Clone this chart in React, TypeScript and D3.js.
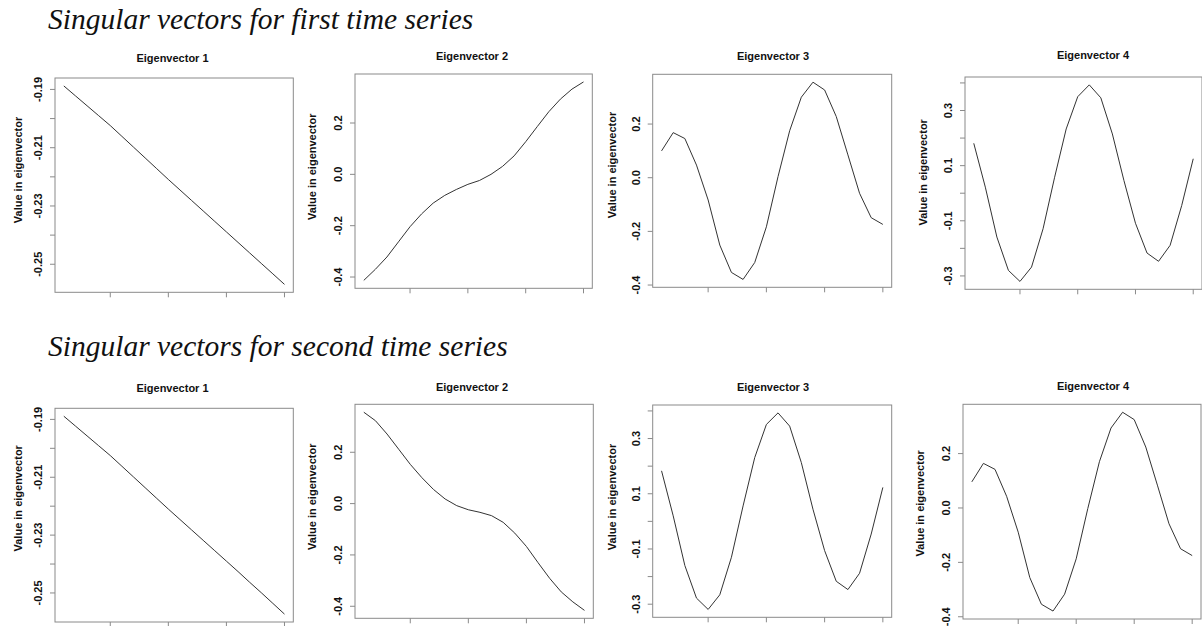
import React from 'react';
import * as d3 from 'd3';

// ---------- data ----------
const xPoints = [1, 2, 3, 4, 5, 6, 7, 8, 9, 10, 11, 12, 13, 14, 15, 16, 17, 18, 19, 20];
const xTicks = [5, 10, 15, 20];

const series1Eig1 = [-0.1888, -0.1922, -0.1956, -0.1990, -0.2024, -0.2061, -0.2098, -0.2135, -0.2172, -0.2209,
  -0.2245, -0.2281, -0.2317, -0.2353, -0.2389, -0.2425, -0.2461, -0.2497, -0.2533, -0.2569];
const series1Eig2 = [-0.413, -0.370, -0.322, -0.263, -0.204, -0.154, -0.112, -0.082, -0.059, -0.039,
  -0.024, 0.000, 0.031, 0.072, 0.127, 0.186, 0.244, 0.293, 0.332, 0.360];
const series1Eig3 = [0.100, 0.168, 0.146, 0.047, -0.083, -0.251, -0.353, -0.379, -0.316, -0.183,
  0.004, 0.175, 0.300, 0.356, 0.327, 0.228, 0.085, -0.058, -0.149, -0.174];
const series1Eig4 = [0.181, 0.022, -0.159, -0.280, -0.320, -0.268, -0.129, 0.058, 0.233, 0.350,
  0.393, 0.346, 0.215, 0.046, -0.109, -0.217, -0.247, -0.189, -0.045, 0.125];

const series2Eig1 = [-0.1889, -0.1923, -0.1957, -0.1991, -0.2025, -0.2062, -0.2099, -0.2136, -0.2173, -0.2210,
  -0.2246, -0.2282, -0.2318, -0.2354, -0.2390, -0.2426, -0.2463, -0.2499, -0.2536, -0.2573];
const series2Eig2 = [0.356, 0.323, 0.271, 0.212, 0.153, 0.101, 0.055, 0.018, -0.008, -0.024,
  -0.034, -0.047, -0.073, -0.115, -0.167, -0.230, -0.291, -0.344, -0.383, -0.416];
const series2Eig3 = [0.183, 0.020, -0.160, -0.278, -0.319, -0.266, -0.130, 0.056, 0.231, 0.351,
  0.393, 0.345, 0.213, 0.044, -0.106, -0.217, -0.247, -0.188, -0.046, 0.123];
const series2Eig4 = [0.096, 0.164, 0.142, 0.043, -0.089, -0.256, -0.354, -0.379, -0.317, -0.187,
  -0.002, 0.170, 0.294, 0.352, 0.325, 0.224, 0.084, -0.058, -0.150, -0.175];

const ticksHundredth = [-0.25, -0.24, -0.23, -0.22, -0.21, -0.20, -0.19];
const labelsHundredth = [-0.25, -0.23, -0.21, -0.19];
const ticksFifth = [-0.4, -0.2, 0.0, 0.2];
const labelsFifth = [-0.4, -0.2, 0.0, 0.2];
const ticksTenth = [-0.3, -0.2, -0.1, 0.0, 0.1, 0.2, 0.3, 0.4];
const labelsTenth = [-0.3, -0.1, 0.1, 0.3];

const headings = ['Singular vectors for first time series', 'Singular vectors for second time series'];
const panelTitles = ['Eigenvector 1', 'Eigenvector 2', 'Eigenvector 3', 'Eigenvector 4'];
const yLabel = 'Value in eigenvector';

// ---------- layout ----------
type Layout = { L: number; R: number; T: number; B: number; tx: number; ty: number; lx: number; ly: number };
const layouts: Layout[] = [
  { L: 55, R: 293.3, T: 78, B: 292.3, tx: 172.5, ty: 57.5, lx: 18.3, ly: 170 },
  { L: 355, R: 592.3, T: 74, B: 288.3, tx: 472, ty: 56, lx: 312, ly: 166.7 },
  { L: 652.7, R: 891.7, T: 74.3, B: 287.3, tx: 773, ty: 56.3, lx: 611.7, ly: 165 },
  { L: 965, R: 1202, T: 77, B: 289.3, tx: 1093, ty: 55, lx: 923.3, ly: 172.3 },
  { L: 55, R: 293.3, T: 408.3, B: 622, tx: 172.5, ty: 388.3, lx: 18.3, ly: 498.3 },
  { L: 355, R: 593.3, T: 404.3, B: 618.3, tx: 472, ty: 386.7, lx: 312, ly: 496.7 },
  { L: 652.7, R: 891.7, T: 405, B: 617.3, tx: 773, ty: 386.7, lx: 611.7, ly: 497 },
  { L: 963, R: 1201, T: 404.3, B: 619, tx: 1093, ty: 385.7, lx: 920, ly: 503.3 },
];

const panels = [
  { title: panelTitles[0], values: series1Eig1, ticks: ticksHundredth, labels: labelsHundredth, digits: 2 },
  { title: panelTitles[1], values: series1Eig2, ticks: ticksFifth, labels: labelsFifth, digits: 1 },
  { title: panelTitles[2], values: series1Eig3, ticks: ticksFifth, labels: labelsFifth, digits: 1 },
  { title: panelTitles[3], values: series1Eig4, ticks: ticksTenth, labels: labelsTenth, digits: 1 },
  { title: panelTitles[0], values: series2Eig1, ticks: ticksHundredth, labels: labelsHundredth, digits: 2 },
  { title: panelTitles[1], values: series2Eig2, ticks: ticksFifth, labels: labelsFifth, digits: 1 },
  { title: panelTitles[2], values: series2Eig3, ticks: ticksTenth, labels: labelsTenth, digits: 1 },
  { title: panelTitles[3], values: series2Eig4, ticks: ticksFifth, labels: labelsFifth, digits: 1 },
];

const SANS = '"Liberation Sans", Arial, Helvetica, sans-serif';
const SERIF = '"Liberation Serif", "Times New Roman", serif';
const BOX = '#8a8a8a';
const LINE = '#333';
const TEXT = '#111';

function rDomain(vals: number[]): [number, number] {
  const [lo, hi] = d3.extent(vals) as [number, number];
  const pad = (hi - lo) * 0.04;
  return [lo - pad, hi + pad];
}

function Panel({ p, lay }: { p: typeof panels[number]; lay: Layout }) {
  const xs = d3.scaleLinear().domain(rDomain(xPoints)).range([lay.L, lay.R]);
  const dom = rDomain(p.values);
  const ys = d3.scaleLinear().domain(dom).range([lay.B, lay.T]);
  const line = d3.line<number>().x((_, i) => xs(xPoints[i])).y((v) => ys(v));
  const eps = 1e-9;
  const ticks = p.ticks.filter((t) => t >= dom[0] - eps && t <= dom[1] + eps);
  const labels = p.labels.filter((t) => t >= dom[0] - eps && t <= dom[1] + eps);
  const tl = 5;
  return (
    <g>
      <text x={lay.tx} y={lay.ty} textAnchor="middle" dominantBaseline="central"
        fontFamily={SANS} fontWeight="bold" fontSize={11} fill={TEXT}>{p.title}</text>
      <path d={line(p.values) || ''} fill="none" stroke={LINE} strokeWidth={1} />
      <rect x={lay.L} y={lay.T} width={lay.R - lay.L} height={lay.B - lay.T} fill="none" stroke={BOX} strokeWidth={1} />
      {xTicks.map((t) => (
        <line key={'x' + t} x1={xs(t)} x2={xs(t)} y1={lay.B} y2={lay.B + tl} stroke={BOX} strokeWidth={1} />
      ))}
      {ticks.map((t) => (
        <line key={'y' + t} x1={lay.L - tl} x2={lay.L} y1={ys(t)} y2={ys(t)} stroke={BOX} strokeWidth={1} />
      ))}
      {labels.map((t) => (
        <text key={'l' + t} transform={`translate(${lay.L - 17},${ys(t)}) rotate(-90)`} textAnchor="middle"
          dominantBaseline="central" fontFamily={SANS} fontWeight="bold" fontSize={11} fill={TEXT}>
          {(Math.abs(t) < 1e-9 ? 0 : t).toFixed(p.digits)}
        </text>
      ))}
      <text transform={`translate(${lay.lx},${lay.ly}) rotate(-90)`} textAnchor="middle" dominantBaseline="central"
        fontFamily={SANS} fontWeight="bold" fontSize={11} fill={TEXT}>{yLabel}</text>
    </g>
  );
}

export default function App() {
  return (
    <svg width={1202} height={626} style={{ position: 'absolute', left: 0, top: 0, background: '#fff' }}>
      <rect x={0} y={0} width={1202} height={626} fill="#fff" />
      <text x={48} y={29} fontFamily={SERIF} fontStyle="italic" fontSize={29.5} fill={TEXT}>{headings[0]}</text>
      <text x={48} y={356} fontFamily={SERIF} fontStyle="italic" fontSize={29.5} fill={TEXT}>{headings[1]}</text>
      {panels.map((p, i) => (
        <Panel key={i} p={p} lay={layouts[i]} />
      ))}
    </svg>
  );
}
